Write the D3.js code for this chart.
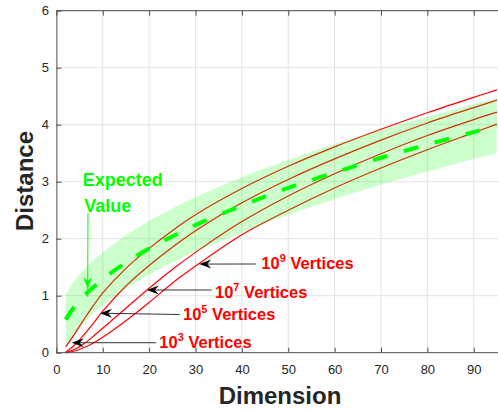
<!DOCTYPE html>
<html>
<head>
<meta charset="utf-8">
<script src="https://cdn.jsdelivr.net/npm/d3@7"></script>
<style>
  body { margin: 0; background: #fff; }
  text { font-family: "Liberation Sans", Arial, sans-serif; }
</style>
</head>
<body>
<div id="chart"></div>
<script>
// values
let dims     = [2, 4, 6, 8, 10, 15, 20, 25, 30, 40, 50, 60, 70, 80, 90, 95];
let expected = [0.58, 0.82, 1.00, 1.15, 1.29, 1.58, 1.83, 2.04, 2.24, 2.58, 2.89, 3.16, 3.42, 3.65, 3.87, 3.98];
let bandLow  = [0.10, 0.36, 0.54, 0.69, 0.83, 1.12, 1.37, 1.58, 1.77, 2.11, 2.42, 2.69, 2.95, 3.18, 3.40, 3.50];
let bandHigh = [1.01, 1.28, 1.46, 1.62, 1.76, 2.06, 2.31, 2.53, 2.73, 3.08, 3.38, 3.66, 3.91, 4.14, 4.36, 4.46];
let v1e3 = [0.10, 0.34, 0.59, 0.83, 1.05, 1.48, 1.83, 2.14, 2.42, 2.88, 3.27, 3.61, 3.92, 4.21, 4.48, 4.61];
let v1e5 = [0.01, 0.14, 0.32, 0.52, 0.73, 1.17, 1.53, 1.85, 2.14, 2.63, 3.04, 3.40, 3.73, 4.03, 4.30, 4.43];
let v1e7 = [0.00, 0.06, 0.16, 0.29, 0.43, 0.78, 1.13, 1.46, 1.76, 2.30, 2.75, 3.14, 3.49, 3.81, 4.09, 4.22];
let v1e9 = [0.00, 0.03, 0.09, 0.17, 0.27, 0.56, 0.88, 1.22, 1.52, 2.07, 2.50, 2.89, 3.24, 3.56, 3.86, 4.01];
let seriesExp = ["3", "5", "7", "9"];

let xTicks = [0, 10, 20, 30, 40, 50, 60, 70, 80, 90];
let yTicks = [0, 1, 2, 3, 4, 5, 6];

let width = 498, height = 411;
let viz = d3.select("#chart")
            .append("svg")
              .attr("width", width)
              .attr("height", height)
              .style("display", "block");

let x = d3.scaleLinear().domain([0, 100]).range([56.4, 520.1]);
let y = d3.scaleLinear().domain([0, 6]).range([352.7, 10.7]);

// grid
viz.append("g").selectAll("line").data(xTicks.slice(1)).enter().append("line")
   .attr("x1", d => x(d)).attr("x2", d => x(d))
   .attr("y1", y(0)).attr("y2", y(6))
   .attr("stroke", "#e3e3e3").attr("stroke-width", 1);
viz.append("g").selectAll("line").data(yTicks.slice(1)).enter().append("line")
   .attr("x1", x(0)).attr("x2", x(100))
   .attr("y1", d => y(d)).attr("y2", d => y(d))
   .attr("stroke", "#e3e3e3").attr("stroke-width", 1);

let smooth = d3.curveCatmullRom.alpha(0.5);
let line = d3.line().x(d => x(d[0])).y(d => y(d[1])).curve(smooth);

// red curves
let curves = [v1e3, v1e5, v1e7, v1e9];
viz.append("g").selectAll("path").data(curves).enter().append("path")
   .attr("d", vals => line(dims.map((d, i) => [d, vals[i]])))
   .attr("fill", "none")
   .attr("stroke", "#ff0000")
   .attr("stroke-width", 1.2);

// shaded band on top (semi transparent)
let area = d3.area()
   .x((d, i) => x(dims[i]))
   .y0((d, i) => y(bandLow[i]))
   .y1((d, i) => y(bandHigh[i]))
   .curve(smooth);
viz.append("path")
   .attr("d", area(dims))
   .attr("fill", "#00ff00")
   .attr("fill-opacity", 0.2);

// expected value, dashed
viz.append("path")
   .attr("d", line(dims.map((d, i) => [d, expected[i]])))
   .attr("fill", "none")
   .attr("stroke", "#00ff00")
   .attr("stroke-width", 4)
   .attr("stroke-dasharray", "15,17");

// axes
let axisColor = "#4d4d4d";
let gx = viz.append("g").attr("transform", "translate(0," + y(0) + ")")
   .call(d3.axisBottom(x).tickValues(xTicks).tickSizeInner(-5).tickSizeOuter(0).tickPadding(12));
let gy = viz.append("g").attr("transform", "translate(" + x(0) + ",0)")
   .call(d3.axisLeft(y).tickValues(yTicks).tickFormat(d3.format("d")).tickSizeInner(-5).tickSizeOuter(0).tickPadding(7.5));
let gt = viz.append("g").attr("transform", "translate(0," + y(6) + ")")
   .call(d3.axisTop(x).tickValues(xTicks).tickSizeInner(-5).tickSizeOuter(0).tickFormat(""));
gt.select(".domain").attr("d", "M" + x(0) + ",0H" + width);
gx.select(".domain").attr("d", "M" + x(0) + ",0H" + width);
[gx, gy, gt].forEach(g => {
  g.selectAll("path, line").attr("stroke", axisColor);
  g.selectAll("text").attr("fill", "#262626").style("font-size", "13px")
   .style("font-family", "'Liberation Sans', Arial, sans-serif");
});

// axis titles
viz.append("text")
   .attr("x", 280).attr("y", 404)
   .attr("text-anchor", "middle")
   .attr("font-weight", "bold").attr("font-size", 24).attr("fill", "#262626")
   .text("Dimension");
viz.append("text")
   .attr("transform", "translate(33,181) rotate(-90)")
   .attr("text-anchor", "middle")
   .attr("font-weight", "bold").attr("font-size", 24).attr("fill", "#262626")
   .text("Distance");

// arrow head with tip at (tx,ty), rotated by ang degrees
function head(g, tx, ty, ang, color) {
  g.append("path")
   .attr("d", "M0,0 L-12,-4.5 L-8,0 L-12,4.5 Z")
   .attr("transform", "translate(" + tx + "," + ty + ") rotate(" + ang + ")")
   .attr("fill", color);
}

// vertex labels, anchor points in data units
let notes = [
  {tip: [30.8, 1.555], tail: [43.0, 1.556], text: [44.2, 1.477]},
  {tip: [19.5, 1.10],  tail: [33.5, 1.10],  text: [34.2, 0.968]},
  {tip: [9.4, 0.691],  tail: [26.6, 0.670], text: [27.3, 0.574]},
  {tip: [3.3, 0.175],  tail: [21.5, 0.175], text: [22.2, 0.077]}
];
let ann = viz.append("g");
notes.forEach((n, i) => {
  ann.append("line")
     .attr("x1", x(n.tail[0])).attr("y1", y(n.tail[1]))
     .attr("x2", x(n.tip[0]) + 8).attr("y2", y(n.tip[1]))
     .attr("stroke", "#333").attr("stroke-width", 1);
  head(ann, x(n.tip[0]), y(n.tip[1]), 180, "#000");
  let t = ann.append("text")
     .attr("x", x(n.text[0])).attr("y", y(n.text[1]))
     .attr("fill", "#ff0000").attr("font-weight", "bold").attr("font-size", 16.5);
  t.append("tspan").text("10");
  t.append("tspan").attr("dy", -7).attr("font-size", 11).text(seriesExp[3 - i]);
  t.append("tspan").attr("dy", 7).text(" Vertices");
});

// expected value label
ann.append("line")
   .attr("x1", x(6.81)).attr("y1", y(2.45))
   .attr("x2", x(6.75)).attr("y2", y(1.118) + 8)
   .attr("stroke", "#00ff00").attr("stroke-width", 1);
head(ann, x(6.75), y(1.118), 90, "#00ff00");
let et = ann.append("text")
   .attr("fill", "#00ff00").attr("font-weight", "bold").attr("font-size", 18);
et.append("tspan").attr("x", x(5.67)).attr("y", y(2.92)).text("Expected");
et.append("tspan").attr("x", x(6.02)).attr("y", y(2.477)).text("Value");
</script>
</body>
</html>
